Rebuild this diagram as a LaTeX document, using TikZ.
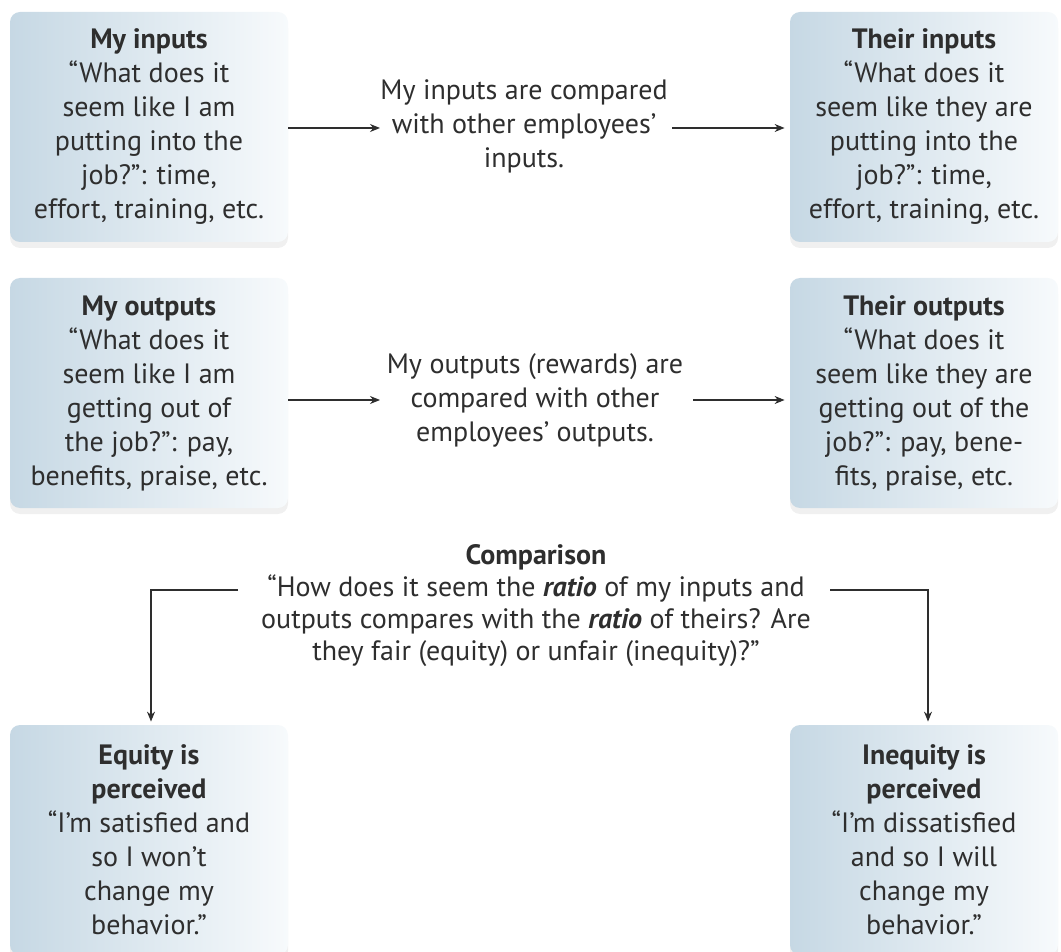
\documentclass[tikz,border=0pt]{standalone}
\usepackage{fontspec}
\setmainfont{PT Sans}
\usetikzlibrary{arrows.meta,shadows}
\definecolor{boxblue}{HTML}{C6D8E4}
\definecolor{boxwhite}{HTML}{F7FAFC}
\definecolor{ink}{HTML}{2E2E2E}
\begin{document}
\begin{tikzpicture}[x=0.5pt, y=-0.5pt, font=\fontsize{14}{17}\selectfont, text=ink,
	box/.style={rounded corners=5pt, left color=boxblue, right color=boxwhite, minimum width=139pt, minimum height=115pt, align=center, inner sep=0pt, drop shadow={opacity=0.12, shadow xshift=0pt, shadow yshift=-3pt}},
	rbox/.style={box, minimum width=134pt},
	mid/.style={align=center},
	arr/.style={draw=ink, line width=0.6pt, -{Stealth[length=5pt, width=4pt]}}]
	\useasboundingbox (0,0) rectangle (1061,952);
	\node[box] (myin) at (149,127) {\textbf{My inputs}\\“What does it\\seem like I am\\putting into the\\job?”: time,\\effort, training, etc.};
	\node[rbox] (thin) at (924,127) {\textbf{Their inputs}\\“What does it\\seem like they are\\putting into the\\job?”: time,\\effort, training, etc.};
	\node[box] (myout) at (149,393) {\textbf{My outputs}\\“What does it\\seem like I am\\getting out of\\the job?”: pay,\\benefits, praise, etc.};
	\node[rbox] (thout) at (924,393) {\textbf{Their outputs}\\“What does it\\seem like they are\\getting out of the\\job?”: pay, bene-\\fits, praise, etc.};
	\node[box] (eq) at (149,840) {\textbf{Equity is}\\\textbf{perceived}\\“I’m satisfied and\\so I won’t\\change my\\behavior.”};
	\node[rbox] (ineq) at (924,840) {\textbf{Inequity is}\\\textbf{perceived}\\“I’m dissatisfied\\and so I will\\change my\\behavior.”};
	\node[mid] (cmpin) at (524,126) {My inputs are compared\\with other employees’\\inputs.};
	\node[mid] (cmpout) at (535,400) {My outputs (rewards) are\\compared with other\\employees’ outputs.};
	\node[mid, font=\fontsize{14}{16}\selectfont] (cmp) at (536,606) {\textbf{Comparison}\\“How does it seem the \textbf{\textit{ratio}} of my inputs and\\outputs compares with the \textbf{\textit{ratio}} of theirs? Are\\they fair (equity) or unfair (inequity)?”};
	\coordinate (inl) at (380,128);
	\coordinate (inr) at (672,128);
	\coordinate (outl) at (380,400);
	\coordinate (outr) at (693,400);
	\coordinate (cmpl) at (238,590);
	\coordinate (cmpr) at (830,590);
	\draw[arr] (myin.east |- inl) -- (inl);
	\draw[arr, shorten >=2.5pt] (inr) -- (thin.west |- inr);
	\draw[arr] (myout.east |- outl) -- (outl);
	\draw[arr, shorten >=2.5pt] (outr) -- (thout.west |- outr);
	\draw[arr, shorten >=1.5pt] (cmpl) -| ([xshift=1pt]eq.north);
	\draw[arr, shorten >=1.5pt] (cmpr) -| ([xshift=2pt]ineq.north);
\end{tikzpicture}
\end{document}
